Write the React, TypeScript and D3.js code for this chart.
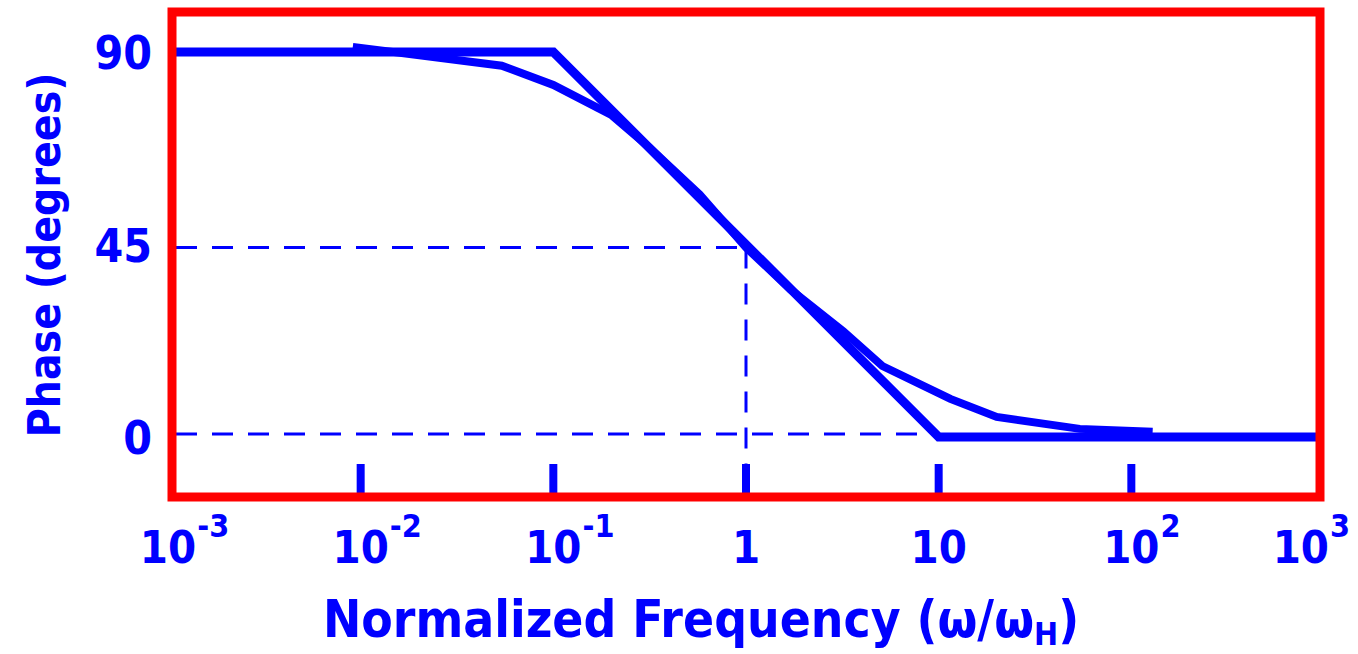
import React, { useEffect, useRef } from 'react';
import * as d3 from 'd3';

// phase curve (freq normalized, phase in degrees)
const curveFreq = [0.0091, 0.054, 0.1, 0.2, 0.316, 0.575, 1.0, 1.7, 3.2, 5.1, 11.5, 20, 54, 129];
const curvePhase = [91.2, 86.8, 82.3, 75.3, 67.6, 56.7, 44.3, 34.5, 24.7, 16.6, 8.9, 4.7, 1.9, 1.2];

// straight-line asymptotes
const asymFreq = [0.001, 0.1, 10, 1000];
const asymPhase = [90, 90, 0, 0];

const yTicks = [0, 45, 90];
const xTickMarks = [0.01, 0.1, 1, 10, 100];
const xLabels = [
    { v: 0.001, base: '10', exp: '-3' },
    { v: 0.01, base: '10', exp: '-2' },
    { v: 0.1, base: '10', exp: '-1' },
    { v: 1, base: '1', exp: '' },
    { v: 10, base: '10', exp: '' },
    { v: 100, base: '10', exp: '2' },
    { v: 1000, base: '10', exp: '3' },
];

const BLUE = '#0000ff';
const RED = '#ff0000';
const FONT = '"DejaVu Sans Condensed", "DejaVu Sans", sans-serif';
const W = 1358;
const H = 654;

const App = () => {
    const svgRef = useRef<SVGSVGElement | null>(null);

    useEffect(() => {
        const svg = d3.select(svgRef.current);
        svg.selectAll('*').remove();

        const frame = { left: 172, right: 1320, top: 12, bottom: 497 };

        const x = d3.scaleLog().domain([0.001, 1000]).range([168, 1324]);
        const y = d3.scaleLinear().domain([0, 90]).range([437, 52]);

        // dashed guide lines
        const dash = svg.append('g')
            .attr('stroke', BLUE)
            .attr('stroke-width', 3)
            .attr('stroke-dasharray', '21,15')
            .attr('fill', 'none');
        dash.append('line')
            .attr('x1', frame.left + 4).attr('x2', x(1))
            .attr('y1', y(45) + 3).attr('y2', y(45) + 3);
        dash.append('line')
            .attr('x1', x(1)).attr('x2', x(1))
            .attr('y1', y(45) + 3).attr('y2', 467);
        dash.append('line')
            .attr('x1', frame.left + 4).attr('x2', x(10))
            .attr('y1', y(0) - 3).attr('y2', y(0) - 3);

        // tick marks along the bottom
        svg.append('g')
            .selectAll('line')
            .data(xTickMarks)
            .join('line')
            .attr('x1', d => x(d)).attr('x2', d => x(d))
            .attr('y1', 464).attr('y2', frame.bottom)
            .attr('stroke', BLUE)
            .attr('stroke-width', 8);

        const line = d3.line<[number, number]>()
            .x(d => x(d[0]))
            .y(d => y(d[1]));

        svg.append('path')
            .datum(asymFreq.map((f, i) => [f, asymPhase[i]] as [number, number]))
            .attr('d', line)
            .attr('fill', 'none')
            .attr('stroke', BLUE)
            .attr('stroke-width', 9)
            .attr('stroke-linejoin', 'miter');

        svg.append('path')
            .datum(curveFreq.map((f, i) => [f, curvePhase[i]] as [number, number]))
            .attr('d', line)
            .attr('fill', 'none')
            .attr('stroke', BLUE)
            .attr('stroke-width', 8)
            .attr('stroke-linejoin', 'miter');

        // red frame
        svg.append('rect')
            .attr('x', frame.left).attr('y', frame.top)
            .attr('width', frame.right - frame.left)
            .attr('height', frame.bottom - frame.top)
            .attr('fill', 'none')
            .attr('stroke', RED)
            .attr('stroke-width', 9);

        // y tick labels
        svg.append('g')
            .selectAll('text')
            .data(yTicks)
            .join('text')
            .attr('x', 152)
            .attr('y', d => y(d) + 17)
            .attr('text-anchor', 'end')
            .attr('font-family', FONT)
            .attr('font-weight', 'bold')
            .attr('font-size', 46)
            .attr('fill', BLUE)
            .text(d => d);

        // x tick labels with exponents; keep the last one inside the page
        const xl = svg.append('g')
            .attr('font-family', FONT)
            .attr('font-weight', 'bold')
            .attr('fill', BLUE);
        xLabels.forEach(l => {
            const base = xl.append('text')
                .attr('y', 563)
                .attr('text-anchor', 'middle')
                .attr('font-size', 45)
                .text(l.base);
            const bw = (base.node() as SVGTextElement).getComputedTextLength();
            let ew = 0;
            let exp: any = null;
            if (l.exp) {
                exp = xl.append('text')
                    .attr('y', 537)
                    .attr('font-size', 32)
                    .text(l.exp);
                ew = (exp.node() as SVGTextElement).getComputedTextLength() + 1;
            }
            let cx = x(l.v);
            const overflow = cx + bw / 2 + ew - (W - 8);
            if (overflow > 0) cx -= overflow;
            base.attr('x', cx);
            if (exp) exp.attr('x', cx + bw / 2 + 1);
        });

        // axis titles
        const xt = svg.append('text')
            .attr('x', 701)
            .attr('y', 637)
            .attr('text-anchor', 'middle')
            .attr('font-family', FONT)
            .attr('font-weight', 'bold')
            .attr('font-size', 51)
            .attr('fill', BLUE);
        xt.append('tspan').text('Normalized Frequency (ω/ω');
        xt.append('tspan').attr('font-size', 32).attr('dy', 8).text('H');
        xt.append('tspan').attr('dy', -8).text(')');

        svg.append('text')
            .attr('transform', 'translate(60,255) rotate(-90)')
            .attr('text-anchor', 'middle')
            .attr('font-family', FONT)
            .attr('font-weight', 'bold')
            .attr('font-size', 44)
            .attr('fill', BLUE)
            .text('Phase (degrees)');
    }, []);

    return (
        <svg
            ref={svgRef}
            width={W}
            height={H}
            style={{ position: 'absolute', left: 0, top: 0, background: '#fff' }}
        />
    );
};

export default App;
